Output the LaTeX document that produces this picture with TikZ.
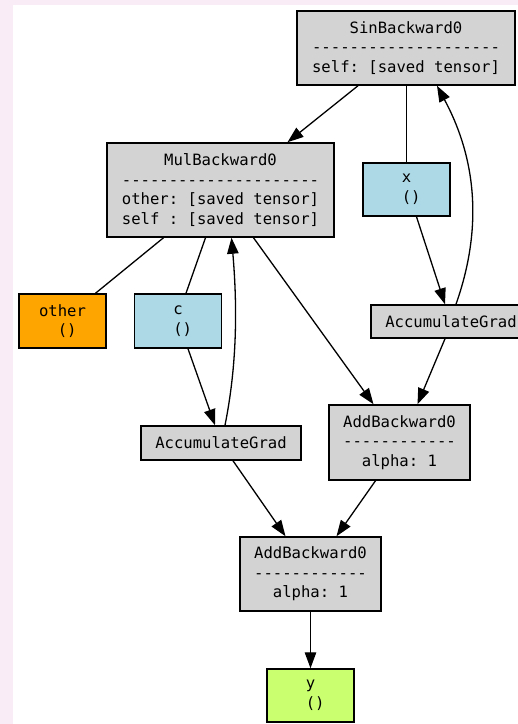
\documentclass[tikz,border=0pt]{standalone}
\usepackage{fontspec}
\setmonofont{DejaVu Sans Mono}
\usepackage{xcolor}
\usepackage{tikz}
\usetikzlibrary{arrows.meta}

\definecolor{bgpink}{RGB}{249,236,246}
\definecolor{fngray}{RGB}{211,211,211}
\definecolor{leafblue}{RGB}{173,216,230}
\definecolor{constorange}{RGB}{255,165,0}
\definecolor{outgreen}{RGB}{202,255,112}

\begin{document}
\begin{tikzpicture}[x=1pt, y=-1pt,
  box/.style={draw, line width=1.5pt, inner sep=0pt, align=center,
    font=\ttfamily\fontsize{15.6}{19.6}\selectfont},
  fnbox/.style={box, fill=fngray},
  leafbox/.style={box, fill=leafblue, minimum width=87pt, minimum height=54pt},
  link/.style={line width=1.3pt},
  grad/.style={link, -{Triangle[length=16pt,width=11.5pt]}}]
  \useasboundingbox (0,0) rectangle (518,724);
  \fill[bgpink] (0,0) rectangle (518,724);
  \fill[white] (13,5) rectangle (518,724);

  \node[fnbox, minimum width=218pt, minimum height=74pt] (sin) at (406,48) {SinBackward0\\--------------------\\self: [saved tensor]};
  \node[fnbox, minimum width=227pt, minimum height=94pt] (mul) at (220.5,190) {MulBackward0\\---------------------\\other: [saved tensor]\\self : [saved tensor]};
  \node[leafbox, fill=constorange] (other) at (62.5,321) {other\\\hphantom{0}()};
  \node[leafbox] (c) at (178,321) {c\\\hphantom{0}()};
  \node[leafbox, minimum height=53pt] (x) at (406.5,189.5) {x\\\hphantom{0}()};
  \node[fnbox, minimum width=160pt, minimum height=33pt] (accR) at (451,321.5) {AccumulateGrad};
  \node[fnbox, minimum width=160pt, minimum height=34pt] (accL) at (221,443) {AccumulateGrad};
  \node[fnbox, minimum width=141pt, minimum height=75pt] (addR) at (399.5,442.5) {AddBackward0\\------------\\alpha: 1};
  \node[fnbox, minimum width=141pt, minimum height=74pt] (addB) at (310.5,574) {AddBackward0\\------------\\alpha: 1};
  \node[leafbox, fill=outgreen, minimum height=53pt] (y) at (310.5,695.5) {y\\\hphantom{0}()};

  \draw[grad] ([xshift=-48pt]sin.south) -- ([xshift=67pt]mul.north);
  \draw[link] ([xshift=0.5pt]sin.south) -- (x.north);
  \draw[grad] ([xshift=5pt]accR.north) .. controls +(30,-85) and +(35,65) .. ([xshift=31pt]sin.south);
  \draw[grad] ([xshift=10pt]x.south) -- ([xshift=-6pt]accR.north);
  \draw[link] ([xshift=-57pt]mul.south) -- ([xshift=33pt]other.north);
  \draw[link] ([xshift=-15pt]mul.south) -- ([xshift=8pt]c.north);
  \draw[grad] ([xshift=4pt]accL.north) .. controls +(12,-60) and +(6,70) .. ([xshift=11pt]mul.south);
  \draw[grad] ([xshift=10pt]c.south) -- ([xshift=-6pt]accL.north);
  \draw[grad] ([xshift=33pt]mul.south) -- ([xshift=-26pt]addR.north);
  \draw[grad] ([xshift=-6pt]accR.south) -- ([xshift=18pt]addR.north);
  \draw[grad] ([xshift=12pt]accL.south) -- ([xshift=-25pt]addB.north);
  \draw[grad] ([xshift=-24pt]addR.south) -- ([xshift=26pt]addB.north);
  \draw[grad] (addB.south) -- (y.north);
\end{tikzpicture}
\end{document}
